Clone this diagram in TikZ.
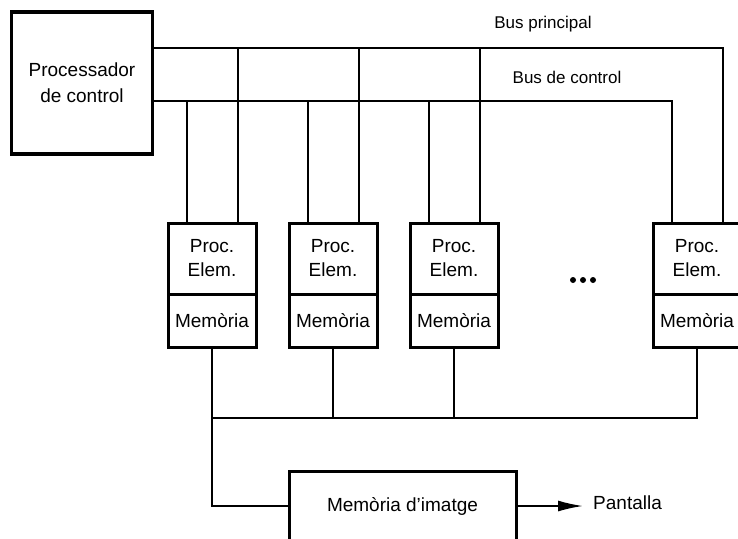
\documentclass[tikz,border=0pt]{standalone}
\usepackage{fontspec}
\setmainfont{Liberation Sans}
\usetikzlibrary{arrows.meta,calc}

\tikzset{
    box/.style={draw, line width=3pt, inner sep=0pt, outer sep=0pt, align=center},
    line/.style={line width=1.8pt},
}

\begin{document}
\begin{tikzpicture}[x=1pt,y=-1pt,font=\fontsize{19}{24}\selectfont]
        \useasboundingbox (0,0) rectangle (738,538);

        % Steuerprozessor
        \node[box, line width=3.6pt, minimum width=141pt, minimum height=142pt, font=\fontsize{19}{26}\selectfont] (cp) at (82,83) {Processador\\de control};

        % Prozessorelemente
        \foreach \n/\x in {1/212,2/333,3/454,4/697} {
            \node[box, minimum width=88pt, minimum height=71pt] (pe\n) at (\x,258.5) {Proc.\\Elem.};
            \node[box, minimum width=88pt, minimum height=53pt, anchor=north] (mem\n) at (pe\n.south) {Memòria};
            \coordinate (ctl\n) at ($(pe\n.north)+(-25,0)$);
            \coordinate (dat\n) at ($(pe\n.north)+(26,0)$);
        }
        \foreach \x in {573,583,593} \fill (\x,280) circle (3);

        % Busse
        \coordinate (mainbus) at (0,48);
        \coordinate (ctlbus) at (0,101);
        \draw[line] (cp.east |- mainbus) -| (dat4);
        \draw[line] (cp.east |- ctlbus) -| (ctl4);
        \foreach \n in {1,2,3} {
            \draw[line] (dat\n) -- (dat\n |- mainbus);
            \draw[line] (ctl\n) -- (ctl\n |- ctlbus);
        }
        \node[font=\fontsize{17}{20}\selectfont] (mainlbl) at (543,24) {Bus principal};
        \node[font=\fontsize{17}{20}\selectfont] (ctllbl) at (567,77) {Bus de control};

        % Bildspeicher
        \node[box, minimum width=227pt, minimum height=70pt] (fb) at (402.5,506) {Memòria d'imatge};
        \node[anchor=west, inner sep=0pt] (scr) at (593,503) {Pantalla};
        \draw[line, -{Latex[length=25pt,width=11pt]}, shorten >=10pt] (fb.east) -- (fb.east -| scr.west);

        \coordinate (lowbus) at (0,418);
        \draw[line] (mem4.south) |- (mem1.south |- lowbus);
        \draw[line] (mem1.south) |- (fb.west);
        \foreach \n in {2,3} \draw[line] (mem\n.south) -- (mem\n.south |- lowbus);
    \end{tikzpicture}
\end{document}
